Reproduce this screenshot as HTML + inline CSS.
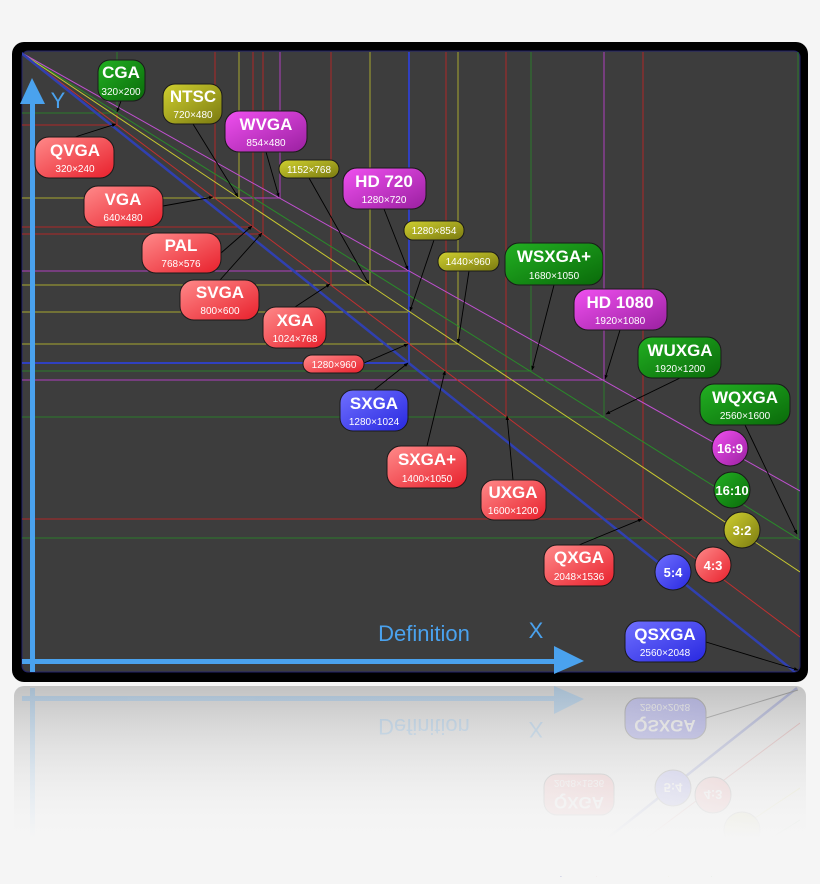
<!DOCTYPE html>
<html><head><meta charset="utf-8"><style>
html,body{margin:0;padding:0;background:#f5f5f5;width:820px;height:884px;overflow:hidden;}
svg{display:block;}
text{font-family:"Liberation Sans",sans-serif;fill:#fff;text-anchor:middle;}
.b{font-size:17px;font-weight:bold;}
.s{font-size:10px;}
</style></head><body>
<svg width="820" height="884" viewBox="0 0 820 884" xmlns="http://www.w3.org/2000/svg">
<defs>
<linearGradient id="gr" x1="0" y1="0" x2="1" y2="1"><stop offset="0" stop-color="#ff8a8a"/><stop offset="1" stop-color="#e8202c"/></linearGradient>
<linearGradient id="gg" x1="0" y1="0" x2="1" y2="1"><stop offset="0" stop-color="#22b022"/><stop offset="1" stop-color="#0a6a0a"/></linearGradient>
<linearGradient id="gm" x1="0" y1="0" x2="1" y2="1"><stop offset="0" stop-color="#f050f0"/><stop offset="1" stop-color="#9a20a0"/></linearGradient>
<linearGradient id="gy" x1="0" y1="0" x2="1" y2="1"><stop offset="0" stop-color="#d0d030"/><stop offset="1" stop-color="#7a7a10"/></linearGradient>
<linearGradient id="gb" x1="0" y1="0" x2="1" y2="1"><stop offset="0" stop-color="#7070ff"/><stop offset="1" stop-color="#2828e0"/></linearGradient>
<linearGradient id="refbg" x1="0" y1="0" x2="0" y2="1"><stop offset="0" stop-color="#c2c2c2"/><stop offset="0.85" stop-color="#f5f5f5"/><stop offset="1" stop-color="#f5f5f5"/></linearGradient>
<linearGradient id="fade" x1="0" y1="0" x2="0" y2="1"><stop offset="0" stop-color="#f5f5f5" stop-opacity="0"/><stop offset="0.8" stop-color="#f5f5f5" stop-opacity="1"/></linearGradient>
<marker id="ar" viewBox="0 0 10 10" refX="9" refY="5" markerWidth="5" markerHeight="5" orient="auto"><path d="M0,1 L10,5 L0,9 z" fill="#000"/></marker>
<clipPath id="inner"><rect x="22" y="51" width="778" height="621"/></clipPath>
</defs>

<rect x="14" y="686" width="792" height="190" rx="10" fill="url(#refbg)"/>

<rect x="12" y="42" width="796" height="640" rx="12" fill="#000"/>
<rect x="22" y="51" width="778" height="621" rx="6" fill="#3d3d3d" stroke="#22226a" stroke-width="1"/>

<g clip-path="url(#inner)" fill="none" stroke-width="1">
<path stroke="#b02828" d="M117 52V125H22 M215 52V198H22 M253 52V227H22 M263 52V234H22 M331 52V285H22 M409 52V344H22 M446 52V371H22 M506 52V417H22 M643 52V519H22"/>
<path stroke="#2a7a2a" d="M117 52V113H22 M531 52V371H22 M604 52V417H22 M798 52V538H22"/>
<path stroke="#b040c0" d="M280 52V198H22 M409 52V271H22 M604 52V380H22"/>
<path stroke="#a8a830" d="M239 52V198H22 M370 52V285H22 M409 52V312H22 M458 52V344H22"/>
<path stroke="#3040c0" stroke-width="2" d="M409 52V363H22"/>
<line x1="20" y1="52" x2="800" y2="637" stroke="#c03030"/>
<line x1="20" y1="52" x2="800" y2="540" stroke="#2a8a2a"/>
<line x1="20" y1="52" x2="800" y2="491" stroke="#c050d0"/>
<line x1="20" y1="52" x2="800" y2="572" stroke="#c8c830"/>
<line x1="20" y1="52" x2="795" y2="672" stroke="#3040b0" stroke-width="2.5"/>
</g>

<g stroke="#000" stroke-width="0.9" marker-end="url(#ar)">
<line x1="121" y1="101" x2="117" y2="112"/>
<line x1="75" y1="137" x2="116" y2="124"/>
<line x1="193" y1="124" x2="238" y2="197"/>
<line x1="266" y1="152" x2="279" y2="197"/>
<line x1="163" y1="206" x2="213" y2="197"/>
<line x1="221" y1="253" x2="252" y2="226"/>
<line x1="220" y1="280" x2="262" y2="233"/>
<line x1="309" y1="178" x2="369" y2="284"/>
<line x1="384" y1="209" x2="408" y2="270"/>
<line x1="295" y1="307" x2="330" y2="284"/>
<line x1="434" y1="240" x2="410" y2="311"/>
<line x1="469" y1="271" x2="458" y2="343"/>
<line x1="364" y1="363" x2="408" y2="344"/>
<line x1="374" y1="390" x2="408" y2="363"/>
<line x1="554" y1="285" x2="532" y2="370"/>
<line x1="620" y1="330" x2="605" y2="379"/>
<line x1="427" y1="446" x2="445" y2="371"/>
<line x1="680" y1="378" x2="606" y2="414"/>
<line x1="513" y1="480" x2="507" y2="416"/>
<line x1="745" y1="425" x2="797" y2="534"/>
<line x1="579" y1="545" x2="642" y2="519"/>
<line x1="706" y1="642" x2="798" y2="670"/>
</g>

<rect x="30" y="100" width="5" height="572" fill="#4aa2ee"/>
<path d="M20 104 L32 78 L45 104 Z" fill="#4aa2ee"/>
<rect x="22" y="659" width="534" height="5" fill="#4aa2ee"/>
<path d="M554 646 L584 661 L554 674 Z" fill="#4aa2ee"/>
<text x="58" y="108" style="font-size:22px;fill:#4aa2ee">Y</text>
<text x="424" y="641" style="font-size:22px;fill:#4aa2ee">Definition</text>
<text x="536" y="638" style="font-size:22px;fill:#4aa2ee">X</text>

<g stroke="#1a1a1a" stroke-width="1">
<rect x="98" y="60" width="47" height="41" rx="12" fill="url(#gg)"/>
<rect x="163" y="84" width="59" height="40" rx="12" fill="url(#gy)"/>
<rect x="225" y="111" width="82" height="41" rx="14" fill="url(#gm)"/>
<rect x="35" y="137" width="79" height="41" rx="14" fill="url(#gr)"/>
<rect x="279" y="160" width="60" height="18" rx="9" fill="url(#gy)"/>
<rect x="343" y="168" width="83" height="41" rx="14" fill="url(#gm)"/>
<rect x="84" y="186" width="79" height="41" rx="14" fill="url(#gr)"/>
<rect x="404" y="221" width="60" height="19" rx="9" fill="url(#gy)"/>
<rect x="142" y="233" width="79" height="40" rx="14" fill="url(#gr)"/>
<rect x="438" y="252" width="61" height="19" rx="9" fill="url(#gy)"/>
<rect x="505" y="243" width="98" height="42" rx="14" fill="url(#gg)"/>
<rect x="180" y="280" width="79" height="40" rx="14" fill="url(#gr)"/>
<rect x="263" y="307" width="63" height="41" rx="13" fill="url(#gr)"/>
<rect x="574" y="289" width="93" height="41" rx="14" fill="url(#gm)"/>
<rect x="303" y="355" width="61" height="18" rx="9" fill="url(#gr)"/>
<rect x="638" y="337" width="83" height="41" rx="14" fill="url(#gg)"/>
<rect x="340" y="390" width="68" height="41" rx="13" fill="url(#gb)"/>
<rect x="700" y="384" width="90" height="41" rx="14" fill="url(#gg)"/>
<rect x="387" y="446" width="80" height="42" rx="14" fill="url(#gr)"/>
<rect x="481" y="480" width="65" height="40" rx="13" fill="url(#gr)"/>
<rect x="544" y="545" width="70" height="41" rx="13" fill="url(#gr)"/>
<rect x="625" y="621" width="81" height="41" rx="14" fill="url(#gb)"/>
<circle cx="730" cy="448" r="18" fill="url(#gm)"/>
<circle cx="732" cy="490" r="18" fill="url(#gg)"/>
<circle cx="742" cy="530" r="18" fill="url(#gy)"/>
<circle cx="713" cy="565" r="18" fill="url(#gr)"/>
<circle cx="673" cy="572" r="18" fill="url(#gb)"/>
</g>
<text class="b" x="121" y="78">CGA</text><text class="s" x="121" y="95">320×200</text>
<text class="b" x="193" y="102">NTSC</text><text class="s" x="193" y="118">720×480</text>
<text class="b" x="266" y="130">WVGA</text><text class="s" x="266" y="146">854×480</text>
<text class="b" x="75" y="156">QVGA</text><text class="s" x="75" y="172">320×240</text>
<text class="s" x="309" y="173">1152×768</text>
<text class="b" x="384" y="187">HD 720</text><text class="s" x="384" y="203">1280×720</text>
<text class="b" x="123" y="205">VGA</text><text class="s" x="123" y="221">640×480</text>
<text class="s" x="434" y="234">1280×854</text>
<text class="b" x="181" y="251">PAL</text><text class="s" x="181" y="267">768×576</text>
<text class="s" x="468" y="265">1440×960</text>
<text class="b" x="554" y="262">WSXGA+</text><text class="s" x="554" y="279">1680×1050</text>
<text class="b" x="220" y="298">SVGA</text><text class="s" x="220" y="314">800×600</text>
<text class="b" x="295" y="326">XGA</text><text class="s" x="295" y="342">1024×768</text>
<text class="b" x="620" y="308">HD 1080</text><text class="s" x="620" y="324">1920×1080</text>
<text class="s" x="334" y="368">1280×960</text>
<text class="b" x="680" y="356">WUXGA</text><text class="s" x="680" y="372">1920×1200</text>
<text class="b" x="374" y="409">SXGA</text><text class="s" x="374" y="425">1280×1024</text>
<text class="b" x="745" y="403">WQXGA</text><text class="s" x="745" y="419">2560×1600</text>
<text class="b" x="427" y="465">SXGA+</text><text class="s" x="427" y="482">1400×1050</text>
<text class="b" x="513" y="498">UXGA</text><text class="s" x="513" y="514">1600×1200</text>
<text class="b" x="579" y="563">QXGA</text><text class="s" x="579" y="580">2048×1536</text>
<text class="b" x="665" y="640">QSXGA</text><text class="s" x="665" y="656">2560×2048</text>
<text x="730" y="453" style="font-size:13px;font-weight:bold">16:9</text>
<text x="732" y="495" style="font-size:13px;font-weight:bold">16:10</text>
<text x="742" y="535" style="font-size:13px;font-weight:bold">3:2</text>
<text x="713" y="570" style="font-size:13px;font-weight:bold">4:3</text>
<text x="673" y="577" style="font-size:13px;font-weight:bold">5:4</text>

<!-- reflection (manual, in-frame) -->
<g opacity="0.25">
<line x1="560" y1="876" x2="797" y2="688" stroke="#3040b0" stroke-width="2.5"/>
<line x1="596" y1="876" x2="800" y2="723" stroke="#c03030"/>
<line x1="668" y1="876" x2="800" y2="788" stroke="#c8c830"/>
<line x1="711" y1="876" x2="800" y2="820" stroke="#2a8a2a"/>
<line x1="706" y1="718" x2="798" y2="690" stroke="#000"/>
<rect x="30" y="688" width="5" height="170" fill="#4aa2ee"/>
<rect x="22" y="696" width="534" height="5" fill="#4aa2ee"/>
<path d="M554 714 L584 699 L554 686 Z" fill="#4aa2ee"/>
<g stroke="#1a1a1a" stroke-width="1">
<rect x="625" y="698" width="81" height="41" rx="14" fill="url(#gb)"/>
<rect x="544" y="774" width="70" height="41" rx="13" fill="url(#gr)"/>
<circle cx="673" cy="788" r="18" fill="url(#gb)"/>
<circle cx="713" cy="795" r="18" fill="url(#gr)"/>
<circle cx="742" cy="830" r="18" fill="url(#gy)"/>
</g>
<g transform="translate(0,1360) scale(1,-1)">
<text x="424" y="641" style="font-size:22px;fill:#4aa2ee">Definition</text>
<text x="536" y="638" style="font-size:22px;fill:#4aa2ee">X</text>
<text class="b" x="665" y="640">QSXGA</text><text class="s" x="665" y="656">2560×2048</text>
<text class="b" x="579" y="563">QXGA</text><text class="s" x="579" y="580">2048×1536</text>
<text x="713" y="570" style="font-size:13px;font-weight:bold">4:3</text>
<text x="673" y="577" style="font-size:13px;font-weight:bold">5:4</text>
</g>
</g>
<rect x="12" y="686" width="796" height="190" fill="url(#fade)"/>
</svg>
</body></html>
